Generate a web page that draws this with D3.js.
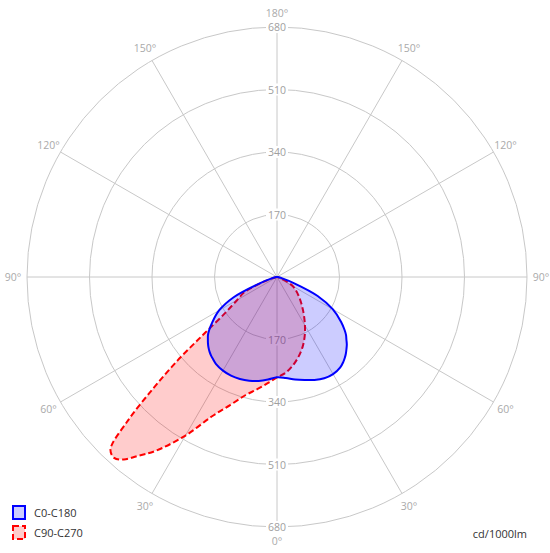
<!DOCTYPE html>
<html><head><meta charset="utf-8">
<script src="https://cdn.jsdelivr.net/npm/d3@7"></script>
<style>body{margin:0;background:#fff}svg{display:block}</style>
</head><body><svg id="c" width="550" height="553"></svg>
<script>
const gammas = [0,5,10,15,20,25,30,35,38,40,42,44,46,48,50,52,55,60,65,70,75,80,85,90];
const c0 = [273,276,283,290,298,304,305,300,293,287,280,272,264,254,245,233,213,175,122,50,15,5,2,0];
const c180 = [273,280,287,292,295,296,294,289,283,279,274,268,261,253,245,234,215,182,130,50,15,5,2,0];
const c90 = [273,262,245,225,203,178,152,128,115,107,100,93,87,81,75,70,62,50,30,12,4,1,0,0];
const c270 = [273,290,310,333,370,418,498,578,618,648,662,652,567,453,352,255,175,125,98,45,12,3,1,0];
const ringTicks = [170,340,510,680];
const angleTicks = [0,30,60,90,120,150,180];
const seriesNames = ["C0-C180","C90-C270"];
const unitLabel = "cd/1000lm";

const svg = d3.select("#c");
const cx = 277, cy = 277, R = 250;
const r = d3.scaleLinear().domain([0,680]).range([0,R]);
const g = svg.append("g").attr("transform",`translate(${cx},${cy})`);
const gridColor = "#c8c8c8";
const font = "'Open Sans', 'Noto Sans', sans-serif";

// rings
ringTicks.forEach(v=>{
  g.append("circle").attr("r",r(v)).attr("fill","none").attr("stroke",gridColor).attr("stroke-width",1);
});
// spokes
const rad = d=>d*Math.PI/180;
[30,60,90,120,150].forEach(a=>{
  [1,-1].forEach(s=>{
    g.append("line").attr("x1",0).attr("y1",0)
      .attr("x2",s*R*Math.sin(rad(a))).attr("y2",R*Math.cos(rad(a)))
      .attr("stroke",gridColor);
  });
});
g.append("line").attr("x1",0).attr("y1",-R).attr("x2",0).attr("y2",R).attr("stroke",gridColor);

// ring labels with gaps
ringTicks.forEach(v=>{
  [-1,1].forEach(s=>{
    const t = g.append("text").attr("x",0).attr("y",s*r(v)).attr("text-anchor","middle")
      .attr("dominant-baseline","central").attr("font-family",font).attr("font-size",10.5)
      .attr("fill","#a0a0a0").text(v);
    const bb = t.node().getBBox();
    g.insert("rect","text").attr("x",bb.x-2).attr("y",bb.y+1).attr("width",bb.width+4).attr("height",bb.height-2).attr("fill","#fff");
  });
});
// angle labels
const LR = 264;
angleTicks.forEach(a=>{
  const sides = (a===0||a===180)?[1]:[1,-1];
  sides.forEach(s=>{
    g.append("text").attr("x",s*LR*Math.sin(rad(a))).attr("y",LR*Math.cos(rad(a)))
      .attr("text-anchor","middle").attr("dominant-baseline","central")
      .attr("font-family",font).attr("font-size",10.5).attr("fill","#aaaaaa").text(a+"°");
  });
});

function pts(rightVals, leftVals){
  const p = [];
  for(let i=gammas.length-1;i>=0;i--) p.push([Math.PI+rad(gammas[i]), r(leftVals[i])]);
  for(let i=1;i<gammas.length-1;i++) p.push([Math.PI-rad(gammas[i]), r(rightVals[i])]);
  return p;
}
const line = d3.lineRadial().angle(d=>d[0]).radius(d=>d[1]).curve(d3.curveCatmullRomClosed.alpha(0.5));

g.append("path").attr("d",line(pts(c90,c270))).attr("fill","rgba(255,0,0,0.2)")
  .attr("stroke","#ff0000").attr("stroke-width",2).attr("stroke-dasharray","6,3").attr("stroke-linejoin","round");
g.append("path").attr("d",line(pts(c0,c180))).attr("fill","rgba(0,0,255,0.2)")
  .attr("stroke","#0000ff").attr("stroke-width",2).attr("stroke-linejoin","round");

// legend
const leg = svg.append("g");
const legendStyles = [
  {fill:"rgba(0,0,255,0.2)",stroke:"#0000ff",dash:null},
  {fill:"rgba(255,0,0,0.2)",stroke:"#ff0000",dash:"6,3"}
];
seriesNames.forEach((n,i)=>{
  const y = 506 + i*20;
  leg.append("rect").attr("x",13).attr("y",y).attr("width",12).attr("height",13)
    .attr("fill",legendStyles[i].fill).attr("stroke",legendStyles[i].stroke).attr("stroke-width",2)
    .attr("stroke-dasharray",legendStyles[i].dash);
  leg.append("text").attr("x",34).attr("y",y+6.5).attr("dominant-baseline","central")
    .attr("font-family",font).attr("font-size",11).attr("fill","#333").text(n);
});
svg.append("text").attr("x",527).attr("y",533).attr("text-anchor","end").attr("dominant-baseline","central")
  .attr("font-family",font).attr("font-size",11).attr("fill","#333").text(unitLabel);
</script></body></html>
